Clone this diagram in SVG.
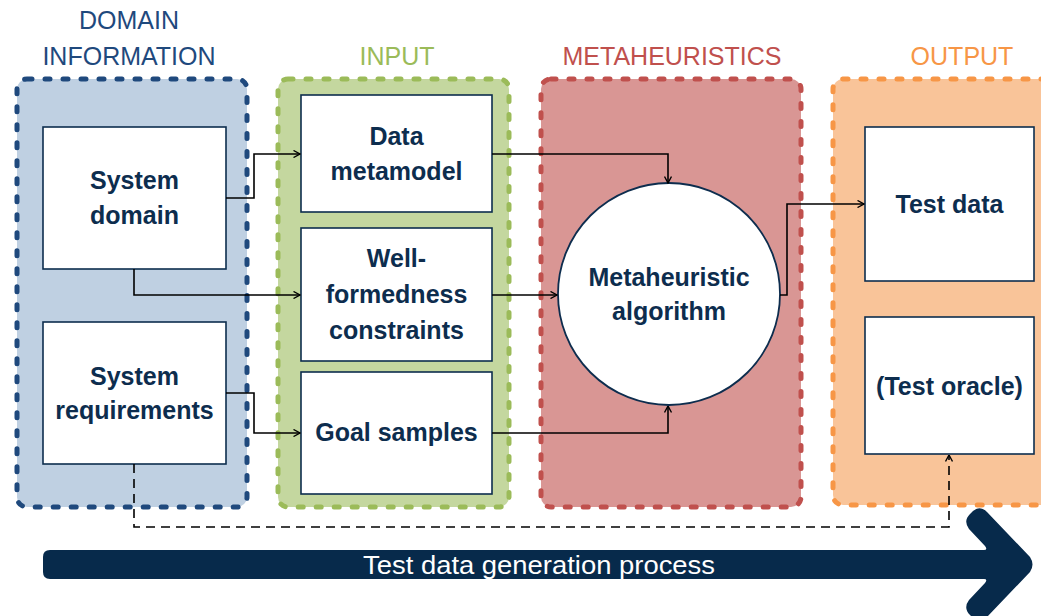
<svg xmlns="http://www.w3.org/2000/svg" width="1041" height="616" viewBox="0 0 1041 616">
<style>
.title{font-family:"Liberation Sans",Arial,sans-serif;font-size:25px;text-anchor:middle}
.lbl{font-family:"Liberation Sans",Arial,sans-serif;font-size:25px;font-weight:bold;fill:#0d2d4e;text-anchor:middle}
.box{fill:#ffffff;stroke:#0d2d4e;stroke-width:1.6}
.cont{stroke-width:5;stroke-dasharray:5 13;stroke-linecap:round}
.conn{fill:none;stroke:#000;stroke-width:1.6}
.dash{fill:none;stroke:#000;stroke-width:1.6;stroke-dasharray:9 6}
</style>
<defs>
<marker id="arr" viewBox="0 0 8 8" refX="7.5" refY="4" markerWidth="8" markerHeight="8" markerUnits="userSpaceOnUse" orient="auto">
<path d="M1,0.5 L7.5,4 L1,7.5" fill="none" stroke="#000" stroke-width="1.4"/>
</marker>
</defs>
<rect width="1041" height="616" fill="#ffffff"/>

<g id="domain-group">
<rect class="cont" x="17" y="79" width="230" height="428" rx="10" fill="#bfd0e2" stroke="#1f497d"/>
<text class="title" x="129" y="29" fill="#1f497d">DOMAIN</text>
<text class="title" x="129" y="65" fill="#1f497d">INFORMATION</text>
</g>
<g id="input-group">
<rect class="cont" x="278" y="79" width="231" height="428" rx="10" fill="#c4d79f" stroke="#9bbb59"/>
<text class="title" x="397" y="65" fill="#9bbb59">INPUT</text>
</g>
<g id="meta-group">
<rect class="cont" x="541" y="79" width="260" height="428" rx="10" fill="#d99694" stroke="#c0504d"/>
<text class="title" x="672" y="65" fill="#c0504d">METAHEURISTICS</text>
</g>
<g id="output-group">
<rect class="cont" x="833" y="79" width="240" height="426" rx="10" fill="#f9c499" stroke="#f79646"/>
<text class="title" x="962" y="65" fill="#f79646">OUTPUT</text>
</g>

<g id="system-domain">
<rect class="box" x="43" y="127" width="183" height="142"/>
<text class="lbl" x="134.5" y="189">System</text>
<text class="lbl" x="134.5" y="224">domain</text>
</g>
<g id="system-requirements">
<rect class="box" x="43" y="322" width="183" height="142"/>
<text class="lbl" x="134.5" y="385">System</text>
<text class="lbl" x="134.5" y="419">requirements</text>
</g>
<g id="data-metamodel">
<rect class="box" x="301" y="95" width="191" height="117"/>
<text class="lbl" x="396.5" y="145">Data</text>
<text class="lbl" x="396.5" y="180">metamodel</text>
</g>
<g id="well-formedness">
<rect class="box" x="301" y="228" width="191" height="133"/>
<text class="lbl" x="396.5" y="267">Well-</text>
<text class="lbl" x="396.5" y="303">formedness</text>
<text class="lbl" x="396.5" y="339">constraints</text>
</g>
<g id="goal-samples">
<rect class="box" x="301" y="372" width="191" height="122"/>
<text class="lbl" x="396.5" y="441">Goal samples</text>
</g>
<g id="metaheuristic-algorithm">
<circle cx="669" cy="294" r="111" fill="#ffffff" stroke="#0d2d4e" stroke-width="1.8"/>
<text class="lbl" x="669" y="286">Metaheuristic</text>
<text class="lbl" x="669" y="320">algorithm</text>
</g>
<g id="test-data">
<rect class="box" x="865" y="127" width="169" height="154"/>
<text class="lbl" x="949.5" y="213">Test data</text>
</g>
<g id="test-oracle">
<rect class="box" x="865" y="317" width="169" height="137"/>
<text class="lbl" x="949.5" y="395">(Test oracle)</text>
</g>

<g id="connectors">
<path class="conn" d="M226,198 H254 V154 H300" marker-end="url(#arr)"/>
<path class="conn" d="M134,269 V295 H300" marker-end="url(#arr)"/>
<path class="conn" d="M226,393 H254 V433 H300" marker-end="url(#arr)"/>
<path class="conn" d="M492,154 H668 V183" marker-end="url(#arr)"/>
<path class="conn" d="M492,295 H557" marker-end="url(#arr)"/>
<path class="conn" d="M492,433 H668 V406" marker-end="url(#arr)"/>
<path class="conn" d="M780,295 H787 V204 H864" marker-end="url(#arr)"/>
<path class="dash" d="M134,464 V527 H949 V455" marker-end="url(#arr)"/>
</g>

<g id="process-arrow">
<path fill="#072a4b" d="M50,550 H984 Q988,550 985,546 L969,529 Q963,521 970,514 L973,511 Q980,505 987,512 L1030,557 Q1035,564.5 1030,572 L987,617 Q980,624 973,618 L970,615 Q963,608 969,600 L985,583 Q988,579 984,579 H50 Q43,579 43,572 V557 Q43,550 50,550 Z"/>
<text x="539" y="574" font-family="'Liberation Sans',Arial,sans-serif" font-size="26" fill="#ffffff" text-anchor="middle" textLength="352" lengthAdjust="spacingAndGlyphs">Test data generation process</text>
</g>
</svg>
